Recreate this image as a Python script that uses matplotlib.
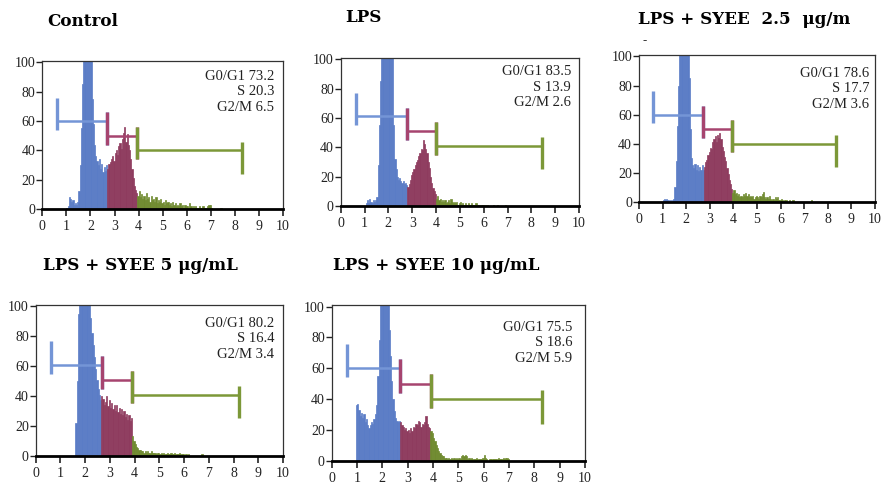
import matplotlib
matplotlib.use("Agg")
import matplotlib.pyplot as plt
import numpy as np

#########################################
# Data (DNA content histograms, bin width 0.05 from 0.80)
#########################################
bin_start = 0.80
bin_width = 0.05

titles = ["Control", "LPS", "LPS + SYEE  2.5  \u03bcg/m",
          "LPS + SYEE 5 \u03bcg/mL", "LPS + SYEE 10 \u03bcg/mL"]

phase_text = [("73.2", "20.3", "6.5"),
              ("83.5", "13.9", "2.6"),
              ("78.6", "17.7", "3.6"),
              ("80.2", "16.4", "3.4"),
              ("75.5", "18.6", "5.9")]

# gate limits: start of G0/G1 marker, G1|S, S|G2, end of G2/M marker
gates = [(0.62, 2.70, 3.95, 8.31),
         (0.65, 2.78, 4.00, 8.43),
         (0.61, 2.73, 3.95, 8.33),
         (0.60, 2.67, 3.88, 8.23),
         (0.62, 2.70, 3.91, 8.29)]

# marker heights (G0/G1, S, G2/M)
marker_y = [(60, 50, 40), (61, 51, 41), (60, 50, 40), (61, 51, 41), (60, 50, 40)]

counts_control = [
    0, 0, 0, 0, 1, 2, 8, 7, 5, 6,
    3, 4, 3, 5, 12, 30, 55, 85, 130, 160,
    170, 165, 150, 140, 125, 75, 58, 44, 36, 33,
    30, 34, 27, 31, 25, 29, 26, 30, 27, 31,
    32, 34, 36, 33, 38, 40, 37, 43, 45, 41,
    48, 52, 56, 46, 51, 44, 40, 34, 27, 21,
    16, 13, 11, 9, 12, 8, 10, 7, 9, 6,
    11, 7, 8, 5, 9, 6, 7, 5, 8, 4,
    6, 5, 7, 4, 5, 3, 6, 4, 5, 3,
    4, 2, 5, 3, 4, 2, 3, 2, 4, 2,
    3, 1, 3, 2, 2, 1, 4, 2, 1, 2,
    1, 2, 1, 1, 2, 1, 1, 2, 1, 1,
    1, 2, 3, 3, 1, 0, 0, 0, 0, 0,
    0, 0, 1, 0, 0, 0]

counts_lps = [
    0, 0, 0, 0, 0, 2, 4, 2, 5, 3,
    2, 4, 3, 4, 6, 28, 55, 85, 120, 150,
    180, 190, 185, 175, 160, 140, 120, 102, 55, 32,
    25, 20, 18, 19, 17, 16, 17, 15, 16, 14,
    13, 15, 18, 21, 23, 25, 28, 30, 31, 34,
    36, 39, 38, 45, 42, 39, 36, 30, 26, 20,
    16, 12, 10, 8, 5, 7, 4, 5, 3, 4,
    3, 4, 2, 3, 4, 2, 5, 3, 2, 3,
    2, 3, 1, 2, 3, 1, 2, 1, 2, 1,
    1, 2, 1, 2, 1, 1, 1, 2, 1, 1,
    1, 0, 1, 1, 0, 1, 0, 1, 0, 0,
    0, 0, 1, 0, 0, 1, 0, 0, 0, 0,
    0, 0, 1, 0, 0, 0, 0, 0, 0, 0,
    0, 0, 0, 0, 0, 0]

counts_syee25 = [
    0, 0, 0, 0, 1, 2, 1, 2, 1, 0,
    1, 0, 1, 2, 10, 28, 52, 80, 115, 150,
    175, 180, 170, 160, 140, 115, 85, 50, 30, 25,
    23, 26, 22, 25, 21, 24, 22, 25, 22, 24,
    27, 29, 32, 34, 37, 36, 41, 43, 45, 41,
    46, 44, 47, 43, 38, 35, 31, 28, 23, 19,
    15, 12, 9, 6, 8, 5, 6, 4, 5, 3,
    4, 3, 5, 4, 6, 4, 5, 3, 4, 3,
    4, 2, 3, 4, 3, 2, 4, 3, 5, 7,
    3, 2, 3, 2, 4, 2, 1, 2, 1, 3,
    2, 3, 1, 1, 2, 1, 0, 1, 1, 0,
    0, 1, 0, 0, 1, 0, 0, 0, 0, 0,
    0, 0, 0, 0, 0, 0, 0, 0, 0, 0,
    1, 0, 0, 0, 0, 0]

counts_syee5 = [
    0, 0, 0, 0, 0, 0, 0, 0, 0, 0,
    0, 0, 0, 0, 0, 0, 22, 50, 95, 130,
    160, 175, 180, 175, 165, 150, 130, 105, 92, 82,
    74, 66, 58, 51, 45, 41, 37, 40, 38, 34,
    36, 40, 33, 37, 32, 35, 31, 34, 30, 34,
    29, 32, 28, 31, 27, 30, 26, 28, 24, 27,
    23, 25, 13, 10, 8, 6, 5, 4, 4, 3,
    3, 2, 3, 2, 3, 2, 2, 3, 2, 2,
    2, 1, 2, 2, 1, 2, 1, 2, 1, 1,
    2, 1, 1, 2, 1, 1, 2, 1, 1, 1,
    2, 1, 1, 1, 0, 1, 0, 1, 0, 0,
    0, 0, 0, 0, 0, 0, 0, 0, 1, 0,
    0, 0, 0, 0, 0, 0, 0, 0, 0, 0,
    0, 0, 0, 0, 0, 0]

counts_syee10 = [
    0, 0, 0, 36, 37, 33, 29, 31, 28, 30,
    25, 27, 23, 21, 23, 25, 24, 27, 30, 36,
    55, 78, 105, 120, 135, 130, 125, 115, 105, 85,
    68, 52, 40, 32, 28, 26, 25, 26, 25, 23,
    22, 20, 21, 19, 20, 18, 21, 19, 22, 21,
    24, 23, 26, 25, 22, 24, 23, 25, 29, 24,
    22, 21, 19, 18, 15, 13, 10, 8, 6, 5,
    4, 3, 3, 2, 2, 1, 2, 1, 2, 1,
    2, 1, 2, 1, 2, 1, 3, 4, 3, 4,
    3, 1, 2, 1, 2, 1, 1, 1, 2, 1,
    1, 1, 1, 2, 4, 2, 1, 0, 1, 1,
    1, 1, 1, 1, 1, 2, 1, 1, 1, 2,
    1, 2, 2, 1, 0, 0, 0, 0, 0, 0,
    0, 0, 0, 0, 0, 0]

all_counts = [counts_control, counts_lps, counts_syee25, counts_syee5, counts_syee10]

#########################################
# Layout in pixels: x of 0, x of 10, y of 100, y of 0
#########################################
W, H = 888, 495
boxes = [(42.3, 283.0, 61.0, 209.0),
         (340.7, 579.0, 57.7, 206.0),
         (639.0, 875.0, 55.0, 201.7),
         (35.7, 283.0, 305.0, 455.7),
         (331.7, 585.0, 305.0, 460.7)]
title_pos = [(47, 21), (345, 17), (638, 20), (43, 265), (333, 265)]
text_pos = [(0.963, 0.94), (0.966, 0.95), (0.976, 0.92), (0.964, 0.922), (0.95, 0.90)]

blue, red, green = "#5a7cc6", "#8e3b5e", "#6f8a2f"
blue_m, red_m, green_m = "#7495d6", "#a6446f", "#7c9838"

serif = ["Liberation Serif", "DejaVu Serif"]
title_font = ["DejaVu Serif", "Liberation Serif"]


def marker(ax, x0, x1, y, color):
    # gate bar: left cap sits mostly above, right cap mostly below
    ax.plot([x0, x1], [y, y], color=color, lw=1.8, solid_capstyle="butt", zorder=3)
    ax.plot([x0, x0], [y - 6, y + 16], color=color, lw=2.4, solid_capstyle="butt", zorder=3)
    ax.plot([x1, x1], [y - 16, y + 6], color=color, lw=2.4, solid_capstyle="butt", zorder=3)


fig = plt.figure(figsize=(W / 100, H / 100), dpi=100)

for i in range(5):
    xl, xr, yt, yb = boxes[i]
    ax = fig.add_axes([xl / W, 1 - yb / H, (xr - xl) / W, (yb - yt) / H])

    counts = np.array(all_counts[i], dtype=float)
    left = bin_start + bin_width * np.arange(len(counts))
    centers = left + bin_width / 2
    g0, g1, g2, g3 = gates[i]
    cols = np.where(centers < g1, blue, np.where(centers < g2, red, green))
    ax.bar(left, counts, width=bin_width, align="edge", color=cols,
           edgecolor=cols, linewidth=0.5, zorder=2)

    hb, hr, hg = marker_y[i]
    marker(ax, g0, g1, hb, blue_m)
    marker(ax, g1, g2, hr, red_m)
    marker(ax, g2, g3, hg, green_m)

    a, b, c = phase_text[i]
    ax.text(text_pos[i][0], text_pos[i][1],
            "G0/G1 %s\nS %s\nG2/M %s" % (a, b, c),
            transform=ax.transAxes, ha="right", va="top", multialignment="right",
            fontsize=10.5, family=serif, linespacing=1.25, color="#222222")

    ax.set_xlim(0, 10)
    ax.set_ylim(0, 101)
    ax.set_xticks(range(11))
    ax.set_yticks(range(0, 101, 20))
    for lab in ax.get_xticklabels() + ax.get_yticklabels():
        lab.set_family(serif)
    ax.tick_params(axis="x", direction="out", length=5, width=1.2, pad=3,
                   labelsize=10, colors="#222222")
    ax.tick_params(axis="y", direction="out", length=4, width=1.0, pad=1,
                   labelsize=10, colors="#222222")
    for s in ["left", "right", "top"]:
        ax.spines[s].set_linewidth(0.9)
        ax.spines[s].set_color("#333333")
    ax.spines["bottom"].set_linewidth(2.0)
    ax.spines["bottom"].set_color("black")

    tx, ty = title_pos[i]
    fig.text(tx / W, 1 - ty / H, titles[i], ha="left", va="center",
             fontsize=12.1, fontweight="bold", family=title_font)

# stray hyphen from the wrapped third title
fig.text(642 / W, 1 - 40 / H, "-", ha="left", va="center",
         fontsize=9, fontweight="bold", family=serif)

fig.savefig("out.png", dpi=100)
